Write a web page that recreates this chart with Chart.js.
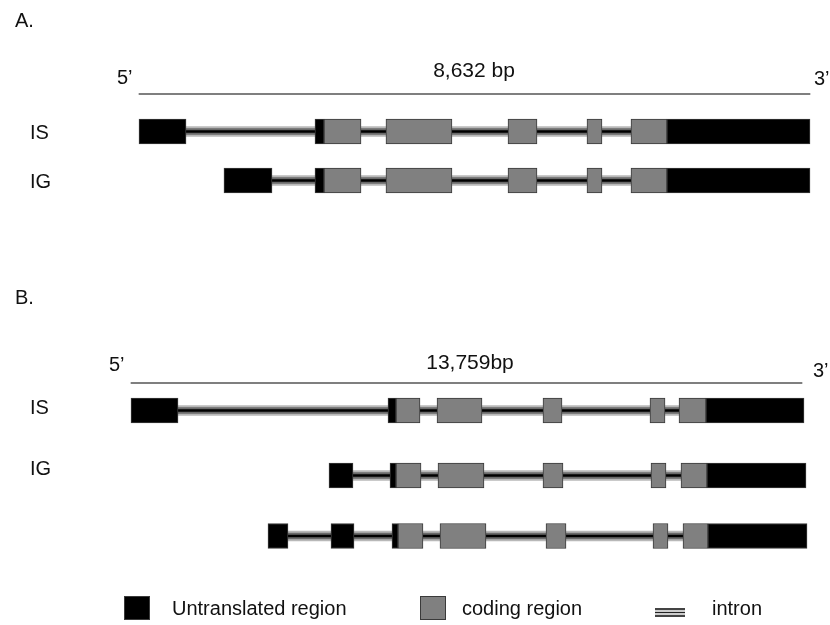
<!DOCTYPE html>
<html>
<head>
<meta charset="utf-8">
<script src="https://cdn.jsdelivr.net/npm/chart.js@4.4.1/dist/chart.umd.min.js"></script>
<style>
  body { margin: 0; background: #fff; }
  #wrap { position: relative; width: 830px; height: 625px; font-family: "Liberation Sans", Arial, sans-serif; color: #111; }
  #wrap canvas { position: absolute; left: 0; top: 0; }
  .lbl { position: absolute; font-size: 20px; line-height: 20px; white-space: nowrap; transform: translateY(-50%); }
  .mid { transform: translate(-50%, -50%); }
  .box { position: absolute; width: 26px; height: 24px; border: 1px solid #3a3a3a; box-sizing: border-box; }
</style>
</head>
<body>
<div id="wrap">
  <canvas id="genes" width="830" height="625"></canvas>
</div>
<script>
// gene lengths (bp)
const lengthA = 8632;
const lengthB = 13759;

// transcript names
const namesA = ['IS', 'IG'];
const namesB = ['IS', 'IG', ''];

// untranslated regions per transcript, [start, end] in bp
const utrA = [
    [[0, 605], [2264, 2380], [6792, 8632]],
    [[1093, 1711], [2264, 2380], [6792, 8632]]
];
const cdsA = [
    [[2380, 2856], [3177, 4026], [4747, 5120], [5763, 5956], [6329, 6792]],
    [[2380, 2856], [3177, 4026], [4747, 5120], [5763, 5956], [6329, 6792]]
];

const utrB = [
    [[0, 964], [5270, 5434], [11790, 13800]],
    [[4060, 4552], [5311, 5434], [11811, 13841]],
    [[2809, 3219], [4101, 4573], [5352, 5475], [11831, 13862]]
];
const cdsB = [
    [[5434, 5926], [6275, 7197], [8448, 8838], [10642, 10950], [11237, 11790]],
    [[5434, 5947], [6295, 7238], [8448, 8858], [10663, 10970], [11278, 11811]],
    [[5475, 5987], [6336, 7279], [8510, 8920], [10704, 11011], [11319, 11831]]
];

// layout (pixels)
const W = 830, H = 625;
const rulerA = {left: 139, y: 94};
const rulerB = {left: 131, y: 383};
const rulerWidth = 671;
const rowsA = [131.5, 180.5];
const rowsB = [410.5, 475.5, 536];

function axisFor(origin, length) {
    const perPx = length / rulerWidth;
    return {
        type: 'linear',
        display: false,
        min: -origin * perPx,
        max: (W - origin) * perPx
    };
}

const datasets = [];

function addTranscripts(utr, cds, rows, axisId) {
    utr.forEach((parts, i) => {
        const all = parts.concat(cds[i]);
        const start = Math.min(...all.map(p => p[0]));
        const end = Math.max(...all.map(p => p[1]));
        const y = rows[i];
        const span = [{x: [start + 50, end - 50], y: y}];

        datasets.push({
            data: parts.map(p => ({x: p, y: y})),
            backgroundColor: '#000',
            borderColor: '#3a3a3a',
            borderWidth: 1,
            borderSkipped: false,
            barThickness: 25,
            order: 1
        });
        datasets.push({
            data: cds[i].map(p => ({x: p, y: y})),
            backgroundColor: '#808080',
            borderColor: '#3a3a3a',
            borderWidth: 1,
            borderSkipped: false,
            barThickness: 25,
            order: 1
        });
        // intron: light outer band, grey inner band, black middle line
        datasets.push({data: span, backgroundColor: '#000', barThickness: 2, order: 2});
        datasets.push({data: span, backgroundColor: '#6a6a6a', barThickness: 6, order: 3});
        datasets.push({data: span, backgroundColor: '#b8b8b8', barThickness: 10, order: 4});
    });
    datasets.forEach(d => {
        if (!d.xAxisID) d.xAxisID = axisId;
    });
}

addTranscripts(utrA, cdsA, rowsA, 'xA');
addTranscripts(utrB, cdsB, rowsB, 'xB');

// scale rulers over the whole gene length
datasets.push({data: [{x: [0, lengthA], y: rulerA.y}], xAxisID: 'xA', backgroundColor: '#555', barThickness: 1, order: 5});
datasets.push({data: [{x: [0, lengthB], y: rulerB.y}], xAxisID: 'xB', backgroundColor: '#555', barThickness: 1, order: 5});

datasets.forEach(d => {
    d.yAxisID = 'y';
    d.grouped = false;
});

new Chart(document.getElementById('genes'), {
    type: 'bar',
    data: {datasets: datasets},
    options: {
        indexAxis: 'y',
        responsive: false,
        animation: false,
        layout: {padding: 0},
        scales: {
            xA: axisFor(rulerA.left, lengthA),
            xB: axisFor(rulerB.left, lengthB),
            y: {type: 'linear', display: false, offset: false, min: 0, max: H, reverse: true}
        },
        plugins: {
            legend: {display: false},
            tooltip: {enabled: false}
        }
    }
});

// text labels
const wrap = document.getElementById('wrap');
function label(text, x, y, centered, size) {
    const el = document.createElement('div');
    el.className = 'lbl' + (centered ? ' mid' : '');
    el.textContent = text;
    el.style.left = x + 'px';
    el.style.top = y + 'px';
    if (size) el.style.fontSize = size + 'px';
    wrap.appendChild(el);
}

label('A.', 15, 20);
label('5\u2019', 117, 77);
label(lengthA.toLocaleString('en-US') + ' bp', 474, 70, true, 21);
label('3\u2019', 814, 78);
namesA.forEach((n, i) => label(n, 30, rowsA[i]));

label('B.', 15, 297);
label('5\u2019', 109, 364);
label(lengthB.toLocaleString('en-US') + 'bp', 470, 362, true, 21);
label('3\u2019', 813, 370);
label(namesB[0], 30, 407);
label(namesB[1], 30, 468);

// legend
function box(x, color) {
    const el = document.createElement('div');
    el.className = 'box';
    el.style.left = x + 'px';
    el.style.top = '596px';
    el.style.background = color;
    wrap.appendChild(el);
}
box(124, '#000');
label('Untranslated region', 172, 608);
box(420, '#808080');
label('coding region', 462, 608);
const icon = document.createElement('div');
icon.style.cssText = 'position:absolute;left:655px;top:608px;width:30px;height:9px;background:linear-gradient(#444 0 2px,#ccc 2px 3.5px,#222 3.5px 5.5px,#ccc 5.5px 7px,#444 7px 9px);';
wrap.appendChild(icon);
label('intron', 712, 608);
</script>
</body>
</html>
